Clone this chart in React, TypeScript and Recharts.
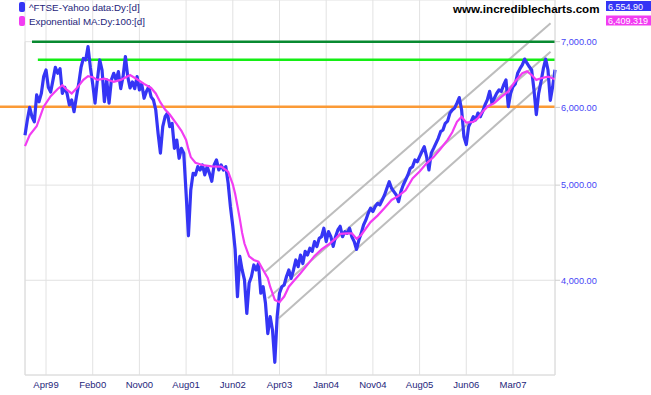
import { CartesianGrid, Line, LineChart, ReferenceLine, XAxis, YAxis } from "recharts";

// one point every 10 trading days
const ftseClose = [
  5620, 5825, 6000, 5870, 5800, 6178, 6080, 6200, 6450, 6550,
  6290, 6220, 6400, 6590, 6500, 6570, 6200, 6290, 6200, 6034,
  6106, 5940, 6150, 6340, 6590, 6730, 6706, 6920, 6590, 6340,
  6060, 6400, 6706, 6550, 6080, 6400, 6060, 6400, 6500, 6400,
  6525, 6270, 6450, 6760, 6450, 6280, 6370, 6270, 6450, 6250,
  6340, 6130, 6230, 6300, 6150, 6106, 5964, 5645, 5390, 5735,
  5870, 5920, 5735, 5780, 5450, 5558, 5325, 5450, 5390, 4905,
  4440, 4944, 5140, 5121, 5222, 5181, 5242, 5121, 5222, 5140,
  5045, 5242, 5304, 5181, 5242, 5181, 5222, 5025, 4750, 4540,
  4300, 3850, 4230, 4098, 4003, 3700, 3975, 4035, 4146, 4098,
  4160, 3880, 3940, 3790, 3530, 3673, 3560, 3300, 3673, 3880,
  3940, 3956, 4035, 4098, 4018, 4098, 4195, 4130, 4244, 4160,
  4280, 4244, 4312, 4280, 4380, 4330, 4413, 4430, 4519, 4380,
  4483, 4430, 4330, 4430, 4501, 4540, 4430, 4483, 4465, 4519,
  4430, 4380, 4300, 4396, 4465, 4554, 4608, 4681, 4736, 4700,
  4755, 4790, 4773, 4829, 4886, 4963, 5040, 4963, 4925, 4886,
  4810, 4925, 5002, 5061, 5121, 5200, 5222, 5304, 5282, 5345,
  5410, 5473, 5345, 5181, 5390, 5450, 5515, 5580, 5668, 5690,
  5780, 5810, 5920, 5964, 5990, 6060, 6140, 5964, 5600, 5500,
  5735, 5800, 5870, 5825, 5920, 5870, 5940, 6034, 6106, 6230,
  6060, 6130, 6200, 6250, 6230, 6324, 6399, 6010, 6200, 6300,
  6340, 6500, 6570, 6628, 6720, 6655, 6600, 6550, 6250, 5900,
  6200, 6370, 6570, 6720, 6550, 6100, 6300, 6554.9,
];

const emaBars = [
  0, 2, 5, 8, 11, 14, 16, 18, 20, 22, 25, 27, 29, 31, 34, 38, 41, 45, 48, 51,
  54, 56, 58, 60, 62, 65, 67, 69, 70, 71, 73, 76, 80, 84, 87, 89, 90, 91, 92, 93,
  94, 96, 98, 100, 102, 104, 105, 107, 109, 111, 113, 115, 118, 121, 124, 127, 130, 133, 135, 138,
  140, 142, 144, 148, 151, 154, 157, 160, 163, 166, 169, 172, 175, 178, 181, 183, 185, 187, 189, 192,
  194, 196, 198, 201, 204, 207, 210, 213, 215, 217, 219, 221, 224, 227,
];
const emaValues = [
  5480, 5624, 5740, 6010, 6160, 6265, 6320, 6250, 6200, 6270, 6400, 6455, 6440, 6400, 6420, 6370, 6400, 6474, 6410, 6340,
  6280, 6200, 6070, 5970, 5900, 5770, 5680, 5560, 5440, 5340, 5270, 5242, 5225, 5222, 5160, 5010, 4900, 4760, 4620, 4470,
  4360, 4230, 4195, 4178, 4098, 4020, 3940, 3820, 3800, 3850, 3940, 3990, 4066, 4150, 4235, 4300, 4350, 4410, 4460, 4465,
  4465, 4410, 4448, 4585, 4655, 4740, 4829, 4875, 4940, 5080, 5163, 5262, 5340, 5445, 5560, 5660, 5800, 5870, 5790, 5800,
  5850, 5940, 6010, 6060, 6150, 6230, 6380, 6500, 6530, 6474, 6400, 6425, 6450, 6409.319,
];

const labelBars = [9, 29, 49, 69, 89, 109, 129, 149, 169, 189, 209];
const labelMonths = ["Apr99", "Feb00", "Nov00", "Aug01", "Jun02", "Apr03", "Jan04", "Nov04", "Aug05", "Jun06", "Mar07"];
const priceTicks = [4000, 5000, 6000, 7000];
const priceDomain = [3203, 7719];

// trend channel: [startBar, startPrice, endBar, endPrice]
const channel = [
  [102.9, 4081, 225.1, 7309],
  [104.1, 3835, 225.1, 6838],
  [108.7, 3659, 225.7, 6475],
];
const resistanceHigh = 7000;
const resistanceLow = 6710;
const support = 6010;

const closeRows = ftseClose.map((close, i) => ({ i, close }));
const emaRows = emaBars.map((i, k) => ({ i, ema: emaValues[k] }));
const lastBar = ftseClose.length - 1;

const font = "'Liberation Sans', Arial, sans-serif";
const fmt = (v: number, d: number) => v.toLocaleString("en-US", { minimumFractionDigits: d, maximumFractionDigits: d });

// the support line runs on into the left margin
function OrangeLine(p: any) {
  const right = Math.max(p.x1, p.x2);
  return <line x1={0} y1={p.y1} x2={right} y2={p.y2} stroke="#fb9a36" strokeWidth={2.5} />;
}

export default function App() {
  return (
    <div style={{ position: "absolute", left: 0, top: 0, width: 651, height: 395, background: "#fff", fontFamily: font }}>
      <LineChart width={651} height={395} data={closeRows} margin={{ top: 0, right: 0, bottom: 0, left: 25 }}>
        <CartesianGrid stroke="#e2e2e2" />
        <XAxis
          dataKey="i"
          type="number"
          domain={[0, lastBar]}
          ticks={labelBars}
          interval={0}
          tickFormatter={(v: number) => labelMonths[labelBars.indexOf(v)]}
          height={20}
          axisLine={{ stroke: "#dcdcdc" }}
          tickLine={false}
          tickMargin={0}
          tick={{ fill: "#1e1e7a", fontSize: 9.5, fontFamily: font }}
        />
        <YAxis
          orientation="right"
          scale="log"
          domain={priceDomain}
          allowDataOverflow
          ticks={priceTicks}
          interval={0}
          width={96}
          tickSize={5}
          tickMargin={1}
          axisLine={{ stroke: "#dcdcdc" }}
          tickLine={{ stroke: "#cfcfcf" }}
          tickFormatter={(v: number) => fmt(v, 2)}
          tick={{ fill: "#4646f6", fontSize: 9.2, fontFamily: font }}
        />
        <ReferenceLine segment={[{ x: 0, y: resistanceHigh }, { x: 0, y: priceDomain[0] }]} stroke="#dcdcdc" />
        {channel.map((c, k) => (
          <ReferenceLine key={k} segment={[{ x: c[0], y: c[1] }, { x: c[2], y: c[3] }]} stroke="#bdbdbd" strokeWidth={2} />
        ))}
        <ReferenceLine y={support} shape={OrangeLine} />
        <ReferenceLine segment={[{ x: 3, y: resistanceHigh }, { x: lastBar, y: resistanceHigh }]} stroke="#088a30" strokeWidth={2.5} />
        <ReferenceLine segment={[{ x: 5.5, y: resistanceLow }, { x: lastBar, y: resistanceLow }]} stroke="#14ee14" strokeWidth={2.5} />
        <Line dataKey="close" stroke="#3535f5" strokeWidth={3.2} dot={false} activeDot={false} strokeLinejoin="round" isAnimationActive={false} />
        <Line data={emaRows} dataKey="ema" stroke="#f23cf2" strokeWidth={2.2} dot={false} activeDot={false} isAnimationActive={false} />
      </LineChart>
      <svg width={651} height={30} style={{ position: "absolute", left: 0, top: 0 }}>
        <rect x={19} y={2} width={6} height={10} rx={2} fill="#3535f5" />
        <text x={29} y={11} fontSize={9.8} fill="#1e1e7a" fontFamily={font}>^FTSE-Yahoo data:Dy:[d]</text>
        <rect x={19} y={16} width={6} height={10} rx={2} fill="#f23cf2" />
        <text x={29} y={24.5} fontSize={9.8} fill="#1e1e7a" fontFamily={font}>Exponential MA:Dy:100:[d]</text>
        <text x={453} y={12.5} fontSize={11.6} fontWeight="bold" fill="#000" fontFamily={font}>www.incrediblecharts.com</text>
        <rect x={606} y={1} width={45} height={10} fill="#3535f5" />
        <text x={608} y={9.5} fontSize={9} fill="#fff" fontFamily={font}>{fmt(ftseClose[lastBar], 2)}</text>
        <rect x={606} y={15.5} width={45} height={10} fill="#f23cf2" />
        <text x={608} y={24} fontSize={9} fill="#fff" fontFamily={font}>{fmt(emaValues[emaValues.length - 1], 3)}</text>
      </svg>
    </div>
  );
}
